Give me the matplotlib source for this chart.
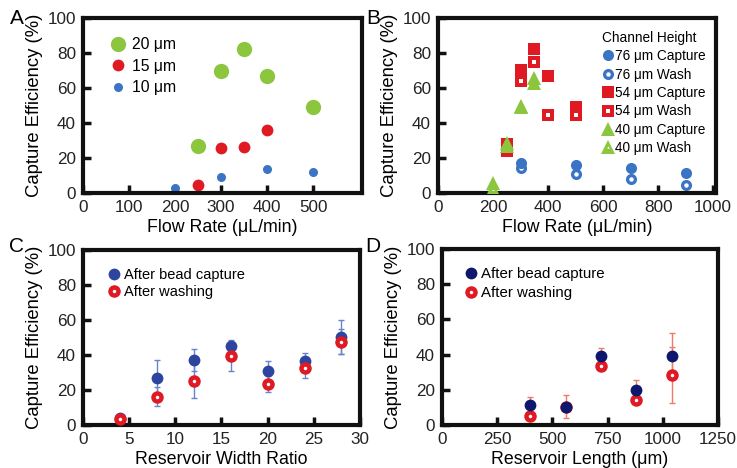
import matplotlib
matplotlib.use("Agg")
import matplotlib.pyplot as plt
from matplotlib.lines import Line2D

plt.rcParams['font.family'] = ['Liberation Sans', 'DejaVu Sans']

# ---- panel A: bead size vs flow rate
a_flow_20 = [250, 300, 350, 400, 500]
a_eff_20 = [27, 69.5, 82, 67, 49]
a_flow_15 = [250, 300, 350, 400]
a_eff_15 = [4.6, 25.5, 26.5, 35.8]
a_flow_10 = [200, 300, 400, 500]
a_eff_10 = [2.6, 9, 13.6, 11.9]

# ---- panel B: channel height vs flow rate
b_flow_76 = [300, 500, 700, 900]
b_cap_76 = [17, 16, 14, 11.3]
b_wash_76 = [14.5, 10.8, 8, 4.7]
b_flow_54 = [250, 300, 350, 400, 500]
b_cap_54 = [28, 70, 82, 67, 49.4]
b_wash_54 = [24, 64, 75, 44.8, 44.8]
b_flow_40 = [200, 250, 300, 350]
b_cap_40 = [5.9, 28.4, 49.8, 65.7]
b_wash_40 = [2.5, 27, 49, 62.8]

# ---- panel C: reservoir width ratio
c_ratio = [4, 8, 12, 16, 20, 24, 28]
c_cap = [3.8, 26.9, 37, 45.3, 30.6, 36.8, 50.5]
c_cap_err = [0, 10, 6.3, 2, 6, 4.5, 9.7]
c_wash = [3.5, 16.2, 25.3, 39.6, 23.4, 32.6, 47.6]
c_wash_err = [0, 5.3, 9.7, 8.7, 4.4, 5.9, 7.2]

# ---- panel D: reservoir length
d_len = [400, 560, 720, 880, 1040]
d_cap = [11.4, 10.5, 39, 20, 39.4]
d_cap_err = [4.5, 6.6, 4.8, 5.3, 13]
d_wash = [5, 10.5, 33.3, 14.4, 28.4]
d_wash_err = [0, 0, 0, 0, 15.7]

GREEN = '#8cc63e'
RED = '#e01a22'
BLUE = '#3b74c4'
NAVY_C = '#2e45a0'
NAVY_D = '#0d176e'


def style_axes(ax, xlim, xticks):
    ax.set_xlim(*xlim)
    ax.set_ylim(0, 100)
    ax.set_xticks(xticks)
    ax.set_yticks([0, 20, 40, 60, 80, 100])
    for s in ax.spines.values():
        s.set_linewidth(3)
        s.set_color('#111111')
    ax.tick_params(direction='in', length=6, width=2.5, color='#111111',
                   labelsize=12.3, pad=5, labelcolor='#222222')
    ax.set_ylabel('Capture Efficiency (%)', fontsize=13.3, labelpad=3)


def mk(color, marker, ms):
    return Line2D([], [], ls='none', marker=marker, ms=ms, mfc=color, mec=color, mew=0)


def hollow(ax, x, y, color, marker, ms, hole, z=3):
    ax.plot(x, y, ls='none', marker=marker, ms=ms, mfc=color, mec=color, mew=0, zorder=z)
    ax.plot(x, y, ls='none', marker=marker, ms=hole, mfc='white', mec='white', mew=0, zorder=z + 0.1)
    return (mk(color, marker, ms), mk('white', marker, hole))


fig = plt.figure(figsize=(7.37, 4.68), dpi=100)
axA = fig.add_axes([0.1126, 0.5876, 0.378, 0.374])
axB = fig.add_axes([0.5943, 0.5876, 0.3772, 0.374])
axC = fig.add_axes([0.1126, 0.0919, 0.3758, 0.374])
axD = fig.add_axes([0.5997, 0.0919, 0.3745, 0.376])

# A
style_axes(axA, (0, 605), [0, 100, 200, 300, 400, 500])
axA.plot(a_flow_20, a_eff_20, 'o', ms=11, color=GREEN, mew=0, label='20 μm')
axA.plot(a_flow_15, a_eff_15, 'o', ms=8.5, color=RED, mew=0, label='15 μm')
axA.plot(a_flow_10, a_eff_10, 'o', ms=6.5, color=BLUE, mew=0, label='10 μm')
axA.set_xlabel('Flow Rate (μL/min)', fontsize=12.8, labelpad=3)
axA.legend(loc='upper left', bbox_to_anchor=(0.065, 0.935), frameon=False, fontsize=11.3,
           handletextpad=0.3, labelspacing=0.42, borderpad=0, handlelength=1.2)

# B
style_axes(axB, (0, 1010), [0, 200, 400, 600, 800, 1000])
h = []
h.append(mk(BLUE, 'o', 8))
axB.plot(b_flow_76, b_cap_76, ls='none', marker='o', ms=8, color=BLUE, mew=0, zorder=3)
h.append(hollow(axB, b_flow_76, b_wash_76, BLUE, 'o', 8, 3.2, z=2.5))
h.append(mk(RED, 's', 8))
axB.plot(b_flow_54, b_cap_54, ls='none', marker='s', ms=8, color=RED, mew=0, zorder=3)
h.append(hollow(axB, b_flow_54, b_wash_54, RED, 's', 8, 3, z=3.2))
h.append(mk(GREEN, '^', 9.5))
axB.plot(b_flow_40, b_cap_40, ls='none', marker='^', ms=9.5, color=GREEN, mew=0, zorder=3.6)
h.append(hollow(axB, b_flow_40, b_wash_40, GREEN, '^', 9.5, 1.8, z=3.4))
labels_b = ['76 μm Capture', '76 μm Wash', '54 μm Capture', '54 μm Wash',
            '40 μm Capture', '40 μm Wash']
legB = axB.legend(h, labels_b, title='Channel Height', loc='upper left',
                  bbox_to_anchor=(0.565, 0.965), frameon=False, fontsize=9.8,
                  title_fontsize=9.8, handletextpad=0.05, labelspacing=0.32,
                  borderpad=0, handlelength=0.9, alignment='left')
axB.set_xlabel('Flow Rate (μL/min)', fontsize=12.8, labelpad=3)

# C
style_axes(axC, (0, 30), [0, 5, 10, 15, 20, 25, 30])
ecC = '#6a84cc'
axC.errorbar(c_ratio, c_cap, yerr=c_cap_err, fmt='none', ecolor=ecC, elinewidth=1,
             capsize=2, capthick=1, zorder=1)
axC.errorbar(c_ratio, c_wash, yerr=c_wash_err, fmt='none', ecolor=ecC, elinewidth=1,
             capsize=2, capthick=1, zorder=1)
axC.plot(c_ratio, c_cap, ls='none', marker='o', ms=8.5, color=NAVY_C, mew=0, zorder=3)
hc = hollow(axC, c_ratio, c_wash, RED, 'o', 9, 2.5, z=3.5)
axC.legend([mk(NAVY_C, 'o', 8.5), hc], ['After bead capture', 'After washing'],
           loc='upper left', bbox_to_anchor=(0.06, 0.94), frameon=False, fontsize=10.5,
           handletextpad=0.2, labelspacing=0.25, borderpad=0, handlelength=1.0)
axC.set_xlabel('Reservoir Width Ratio', fontsize=12.8, labelpad=3)

# D
style_axes(axD, (0, 1250), [0, 250, 500, 750, 1000, 1250])
ecD = '#f07a68'
axD.errorbar(d_len, d_cap, yerr=d_cap_err, fmt='none', ecolor=ecD, elinewidth=1,
             capsize=2, capthick=1, zorder=1)
axD.errorbar(d_len, d_wash, yerr=d_wash_err, fmt='none', ecolor=ecD, elinewidth=1,
             capsize=2, capthick=1, zorder=1)
hd = hollow(axD, d_len, d_wash, RED, 'o', 9, 2.5, z=3)
axD.plot(d_len, d_cap, ls='none', marker='o', ms=8.5, color=NAVY_D, mew=0, zorder=3.5)
axD.legend([mk(NAVY_D, 'o', 8.5), hd], ['After bead capture', 'After washing'],
           loc='upper left', bbox_to_anchor=(0.05, 0.94), frameon=False, fontsize=10.8,
           handletextpad=0.15, labelspacing=0.35, borderpad=0, handlelength=1.0)
axD.set_xlabel('Reservoir Length (μm)', fontsize=12.8, labelpad=3)

# panel letters
for txt, x, y in [('A', 17, 19), ('B', 373, 19), ('C', 17, 247), ('D', 373, 247)]:
    fig.text(x / 737, 1 - y / 468, txt, fontsize=15, ha='center', va='center')

fig.savefig('out.png', dpi=100)
